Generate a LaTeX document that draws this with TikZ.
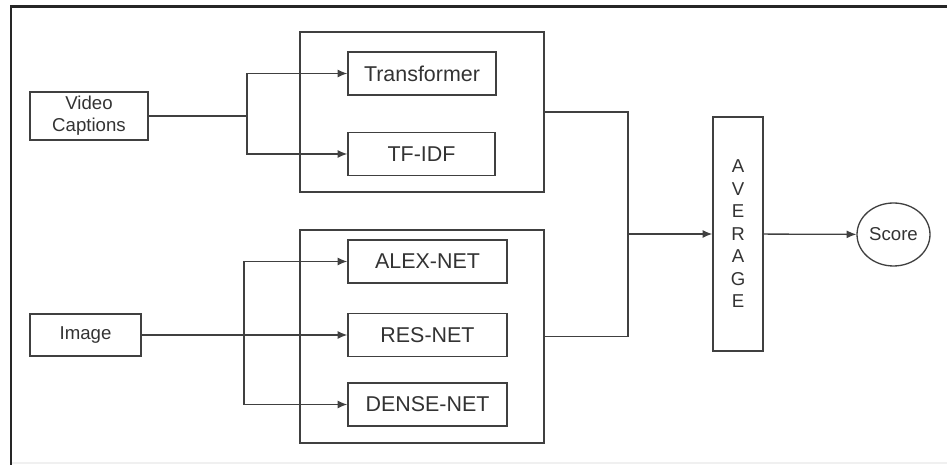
\documentclass[tikz,border=0pt]{standalone}
\usepackage{fontspec}
\setmainfont{Liberation Sans}
\usepackage{tikz}
\usetikzlibrary{arrows.meta,shapes.geometric}

\begin{document}
\begin{tikzpicture}[x=0.02cm,y=-0.02cm,
    line width=0.75pt,draw=black!75,text=black!80,
    box/.style={draw,rectangle,inner sep=0pt,font=\fontsize{10.6}{12.5}\selectfont,align=center},
    model/.style={box,font=\fontsize{12.2}{14}\selectfont,minimum height=0.86cm},
    group/.style={draw,rectangle,inner sep=0pt,minimum width=4.88cm},
    conn/.style={-{Latex[length=5.5pt,width=4.5pt]}}]
    \useasboundingbox (0,0) rectangle (947,465);

    % frame
    \draw[line width=1.7pt,draw=black!85] (947,7) -- (11,7) -- (11,465);
    \draw[draw=black!6,line width=1pt] (12,463) -- (947,463);

    % groups
    \node[group,minimum height=3.2cm] (tg) at (422,112) {};
    \node[group,minimum height=4.26cm] (bg) at (422,336.5) {};

    \node[box,minimum width=2.36cm,minimum height=0.96cm] (vc) at (89,116) {Video\\Captions};
    \node[box,minimum width=2.22cm,minimum height=0.84cm] (img) at (85.5,335) {Image};

    \node[model,minimum width=2.96cm] (tr) at (422,73.5) {Transformer};
    \node[model,minimum width=2.94cm] (tfidf) at (421.5,154) {TF-IDF};
    \node[model,minimum width=3.18cm] (alex) at (427.5,261.5) {ALEX-NET};
    \node[model,minimum width=3.18cm] (res) at (427.5,335) {RES-NET};
    \node[model,minimum width=3.18cm] (dense) at (427.5,404.5) {DENSE-NET};

    \node[box,minimum width=1cm,minimum height=4.68cm,font=\fontsize{10.6}{12.8}\selectfont]
      (avg) at (738,234) {A\\V\\E\\R\\A\\G\\E};
    \node[draw,ellipse,inner sep=0pt,minimum width=1.46cm,minimum height=1.26cm,
      font=\fontsize{10.6}{12.5}\selectfont] (score) at (893.5,234.5) {Score};

    % text branch
    \coordinate (vcj) at (247,116);
    \draw (vc) -- (vcj);
    \draw[conn] (vcj) |- (tr);
    \draw[conn] (vcj) |- (tfidf);

    % image branch
    \coordinate (imj) at (244,335);
    \draw[conn] (img) -- (res);
    \draw[conn] (imj) |- (alex);
    \draw[conn] (imj) |- (dense);

    % merge
    \coordinate (mj) at (628,234);
    \draw (tg.east) -| (mj) |- (bg.east);
    \draw[conn] (mj) -- (avg);
    \draw[conn] (avg) -- (score);
\end{tikzpicture}
\end{document}
